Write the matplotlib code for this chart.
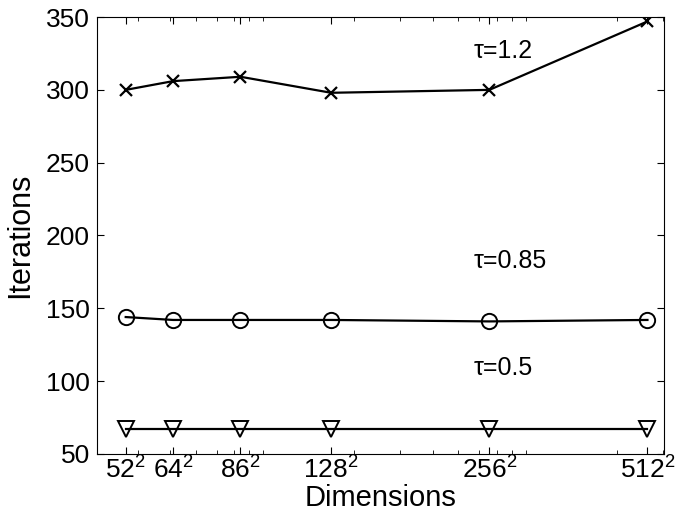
import numpy as np
import matplotlib
matplotlib.use('Agg')
import matplotlib.pyplot as plt

plt.rcParams['font.family'] = ['Liberation Sans', 'DejaVu Sans']
plt.rcParams['mathtext.fontset'] = 'custom'
plt.rcParams['mathtext.rm'] = 'Liberation Sans'
plt.rcParams['mathtext.it'] = 'Liberation Sans'

# grid sides, plotted as number of unknowns (side^2)
sides = [52, 64, 86, 128, 256, 512]
iters_tau12 = [300, 306, 309, 298, 300, 347]
iters_tau085 = [144, 142, 142, 142, 141, 142]
iters_tau05 = [67, 67, 67, 67, 67, 67]
tick_labels = [r'$52^2$', r'$64^2$', r'$86^2$', r'$128^2$', r'$256^2$', r'$512^2$']

dims = np.array(sides, dtype=float) ** 2

fig = plt.figure(figsize=(6.87, 5.17), dpi=100)
ax = fig.add_axes([0.141, 0.122, 0.8255, 0.845])

ax.plot(dims, iters_tau12, color='k', lw=1.6, marker='x', ms=8, mew=1.6)
ax.plot(dims, iters_tau085, color='k', lw=1.6, marker='o', ms=11, mew=1.4,
        mfc='none')
ax.plot(dims, iters_tau05, color='k', lw=1.6, marker='v', ms=11, mew=1.4,
        mfc='none')

ax.set_xscale('log')
ax.set_xlim(2100, 3.03e5)
ax.set_ylim(50, 350)
ax.set_yticks([50, 100, 150, 200, 250, 300, 350])
ax.set_xticks(dims)
ax.set_xticklabels(tick_labels)

ax.tick_params(which='both', direction='in', top=True, right=True)
ax.tick_params(which='major', length=5, labelsize=19, pad=5)
ax.tick_params(axis='x', which='major', pad=2)
ax.tick_params(which='minor', length=3)
for s in ax.spines.values():
    s.set_linewidth(0.8)

ax.text(57000, 322, 'τ=1.2', fontsize=18)
ax.text(57000, 178, 'τ=0.85', fontsize=18)
ax.text(57000, 104, 'τ=0.5', fontsize=18)

ax.set_xlabel('Dimensions', fontsize=21, labelpad=0)
ax.set_ylabel('Iterations', fontsize=22, labelpad=8)

fig.savefig('out.png', dpi=100)
